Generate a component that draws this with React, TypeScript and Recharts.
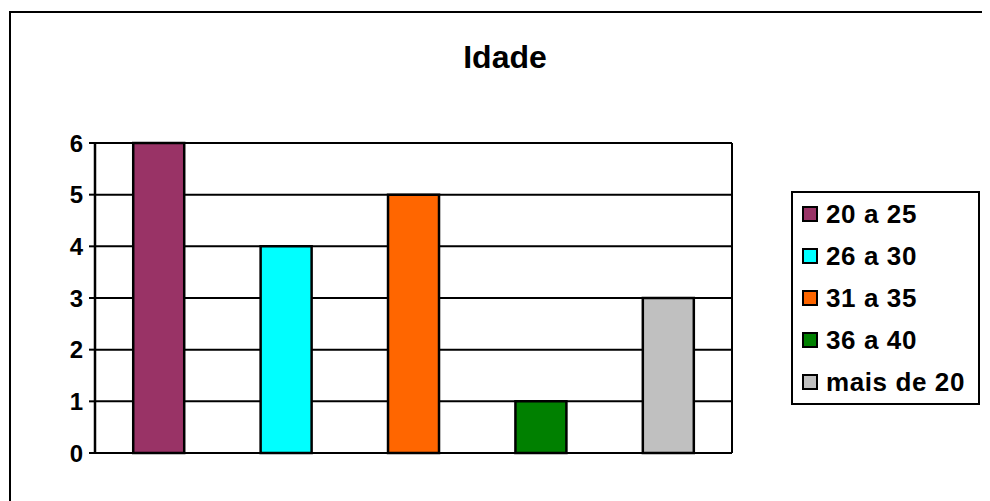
import { BarChart, Bar, Cell, XAxis, YAxis, CartesianGrid, Legend } from 'recharts';

const categories = ['20 a 25', '26 a 30', '31 a 35', '36 a 40', 'mais de 20'];
const counts = [6, 4, 5, 1, 3];
const yTicks = [0, 1, 2, 3, 4, 5, 6];

const COLORS = ['#993366', '#00ffff', '#ff6600', '#008000', '#c0c0c0'];

const data = categories.map((name, i) => ({ name, value: counts[i] }));

const FONT = '"Liberation Sans", Arial, sans-serif';

const LegendBox = () => (
  <div
    style={{
      border: '2px solid #000',
      width: 189,
      boxSizing: 'border-box',
      padding: '0 0 0 9px',
      background: '#fff',
      fontFamily: FONT,
    }}
  >
    {categories.map((c, i) => (
      <div key={c} style={{ display: 'flex', alignItems: 'center', height: 42 }}>
        <span
          style={{
            width: 16,
            height: 16,
            boxSizing: 'border-box',
            border: '2px solid #000',
            background: COLORS[i],
            marginRight: 8,
            flex: 'none',
          }}
        />
        <span style={{ fontSize: 26, fontWeight: 'bold', letterSpacing: 0.6, color: '#000' }}>{c}</span>
      </div>
    ))}
  </div>
);

// right edge of the plot frame, taken from the chart's own offset
const frameLines = ({ offset }: any) => [offset.left + offset.width];

export default function App() {
  return (
    <div style={{ position: 'relative', width: 982, height: 493, overflow: 'hidden', fontFamily: FONT }}>
      <div
        style={{
          position: 'absolute',
          left: 1,
          top: 3,
          width: 990,
          height: 500,
          borderTop: '2px solid #000',
          borderLeft: '2px solid #000',
        }}
      />
      <div
        style={{
          position: 'absolute',
          left: 497,
          top: 31,
          transform: 'translateX(-50%)',
          fontSize: 32,
          fontWeight: 'bold',
          color: '#000',
        }}
      >
        Idade
      </div>
      <div style={{ position: 'absolute', left: 0, top: 0 }}>
        <BarChart
          width={982}
          height={493}
          data={data}
          margin={{ top: 135, right: 69, bottom: 48, left: 27 }}
          barCategoryGap="30%"
        >
          <CartesianGrid
            stroke="#000"
            strokeWidth={2}
            verticalCoordinatesGenerator={frameLines}
          />
          <XAxis dataKey="name" hide />
          <YAxis
            domain={[0, 6]}
            ticks={yTicks}
            width={60}
            interval={0}
            tickSize={6}
            tickMargin={6}
            axisLine={{ stroke: '#000', strokeWidth: 2.5 }}
            tickLine={{ stroke: '#000', strokeWidth: 2 }}
            tick={{ fill: '#000', fontSize: 24, fontWeight: 'bold', fontFamily: FONT }}
          />
          <Legend
            layout="vertical"
            align="right"
            verticalAlign="top"
            content={() => <LegendBox />}
            wrapperStyle={{ left: 783, top: 183, right: 'auto' }}
          />
          <Bar dataKey="value" stroke="#000" strokeWidth={2.5} isAnimationActive={false}>
            {data.map((d, i) => (
              <Cell key={d.name} fill={COLORS[i]} />
            ))}
          </Bar>
        </BarChart>
      </div>
    </div>
  );
}
